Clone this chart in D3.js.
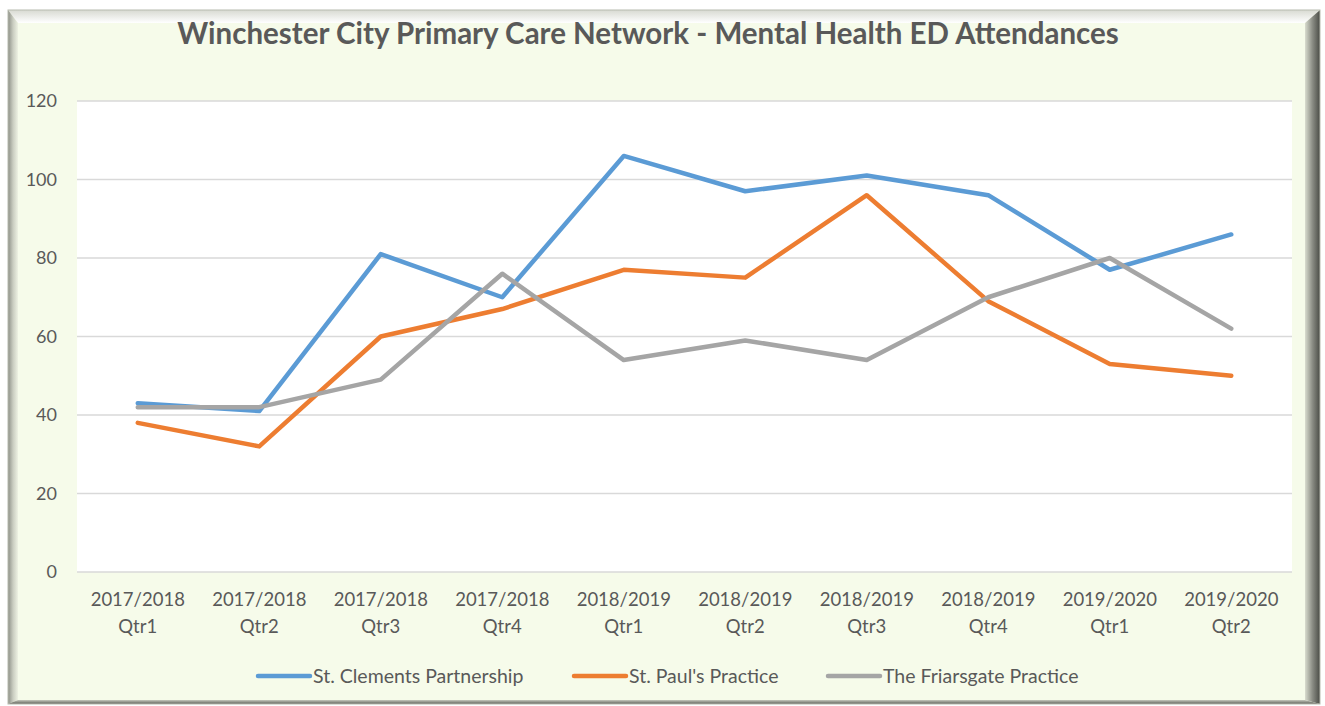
<!DOCTYPE html>
<html>
<head>
<meta charset="utf-8">
<script src="https://cdn.jsdelivr.net/npm/d3@7"></script>
<style>
  body { margin: 0; background: #ffffff; }
  svg text { font-family: Lato, "Open Sans", sans-serif; fill: #595959; }
</style>
</head>
<body>
<div id="chart"></div>
<script>
var categories = ["2017/2018 Qtr1", "2017/2018 Qtr2", "2017/2018 Qtr3", "2017/2018 Qtr4",
	"2018/2019 Qtr1", "2018/2019 Qtr2", "2018/2019 Qtr3", "2018/2019 Qtr4",
	"2019/2020 Qtr1", "2019/2020 Qtr2"];
var seriesNames = ["St. Clements Partnership", "St. Paul's Practice", "The Friarsgate Practice"];
var clements = [43, 41, 81, 70, 106, 97, 101, 96, 77, 86];
var pauls = [38, 32, 60, 67, 77, 75, 96, 69, 53, 50];
var friarsgate = [42, 42, 49, 76, 54, 59, 54, 70, 80, 62];
var yTicks = [0, 20, 40, 60, 80, 100, 120];
var colors = ["#5b9bd5", "#ed7d31", "#a5a5a5"];

var width = 1325, height = 706;
var svg = d3.select("#chart").append("svg").attr("width", width).attr("height", height);

var defs = svg.append("defs");
function grad(id, x2, y2, stops) {
	var g = defs.append("linearGradient").attr("id", id)
		.attr("x1", 0).attr("y1", 0).attr("x2", x2).attr("y2", y2);
	stops.forEach(function (s) { g.append("stop").attr("offset", s[0]).attr("stop-color", s[1]); });
}
grad("bevLeft", 1, 0, [[0, "#8c8f86"], [0.5, "#c9ccc0"], [1, "#eef2e3"]]);
grad("bevTop", 0, 1, [[0, "#d8dad2"], [1, "#ffffff"]]);
grad("bevRight", 1, 0, [[0, "#d9dccf"], [0.5, "#8a8c84"], [1, "#4a4c46"]]);
grad("bevBottom", 0, 1, [[0, "#c6c9bd"], [1, "#5d5f58"]]);

// frame with bevel
var ox0 = 8, oy0 = 10, ox1 = 1320, oy1 = 704;
var ix0 = 18, iy0 = 23, ix1 = 1305, iy1 = 700;
svg.append("rect").attr("x", ox0).attr("y", oy0).attr("width", ox1 - ox0).attr("height", oy1 - oy0).attr("fill", "#f6fbea");
function poly(pts, fill) {
	svg.append("polygon").attr("points", pts.map(function (p) { return p.join(","); }).join(" ")).attr("fill", fill);
}
poly([[ox0, oy0], [ox1, oy0], [ix1, iy0], [ix0, iy0]], "url(#bevTop)");
poly([[ox0, oy0], [ix0, iy0], [ix0, iy1], [ox0, oy1]], "url(#bevLeft)");
poly([[ox1, oy0], [ox1, oy1], [ix1, iy1], [ix1, iy0]], "url(#bevRight)");
poly([[ox0, oy1], [ix0, iy1], [ix1, iy1], [ox1, oy1]], "url(#bevBottom)");
svg.append("rect").attr("x", ox0).attr("y", oy0).attr("width", ox1 - ox0).attr("height", oy1 - oy0)
	.attr("fill", "none").attr("stroke", "#b8bbb0").attr("stroke-width", 1);

// plot area
var plot = { left: 77, right: 1292, top: 101, bottom: 572 };
svg.append("rect").attr("x", plot.left).attr("y", plot.top)
	.attr("width", plot.right - plot.left).attr("height", plot.bottom - plot.top).attr("fill", "#ffffff");

var x = d3.scaleBand().domain(categories).range([plot.left, plot.right]).padding(0);
var y = d3.scaleLinear().domain([0, 120]).range([plot.bottom, plot.top]);

// gridlines
svg.append("g").selectAll("line").data(yTicks).enter().append("line")
	.attr("x1", plot.left).attr("x2", plot.right)
	.attr("y1", function (d) { return y(d); }).attr("y2", function (d) { return y(d); })
	.attr("stroke", "#d9d9d9").attr("stroke-width", 1.5);

// y axis labels
var yAxis = svg.append("g").attr("transform", "translate(" + plot.left + ",0)")
	.call(d3.axisLeft(y).tickValues(yTicks).tickSize(0).tickPadding(20));
yAxis.select(".domain").remove();
yAxis.selectAll("text").style("font-size", "18px").attr("fill", "#595959");

// x axis labels (two lines)
var xAxis = svg.append("g").attr("transform", "translate(0," + plot.bottom + ")")
	.call(d3.axisBottom(x).tickSize(0).tickFormat(""));
xAxis.select(".domain").remove();
xAxis.selectAll(".tick").each(function (d) {
	var parts = d.split(" ");
	var t = d3.select(this).append("text").attr("text-anchor", "middle").attr("fill", "#595959")
		.style("font-size", "18.5px");
	t.append("tspan").attr("x", 0).attr("y", 34).text(parts[0]);
	t.append("tspan").attr("x", 0).attr("y", 61).text(parts[1]);
});

// lines
var allSeries = [clements, pauls, friarsgate];
var line = d3.line()
	.x(function (d, i) { return x(categories[i]) + x.bandwidth() / 2; })
	.y(function (d) { return y(d); });
svg.append("g").selectAll("path").data(allSeries).enter().append("path")
	.attr("d", line).attr("fill", "none")
	.attr("stroke", function (d, i) { return colors[i]; })
	.attr("stroke-width", 4.5).attr("stroke-linejoin", "round").attr("stroke-linecap", "round");

// title
svg.append("text").attr("x", 648).attr("y", 44).attr("text-anchor", "middle")
	.style("font-size", "29.5px").style("font-weight", "bold").attr("fill", "#595959")
	.text("Winchester City Primary Care Network - Mental Health ED Attendances");

// legend
var legendX = [258, 574, 828];
var legend = svg.append("g").selectAll("g").data(seriesNames).enter().append("g")
	.attr("transform", function (d, i) { return "translate(" + legendX[i] + ",676)"; });
legend.append("line").attr("x1", 0).attr("x2", 52).attr("y1", 0).attr("y2", 0)
	.attr("stroke", function (d, i) { return colors[i]; })
	.attr("stroke-width", 4.5).attr("stroke-linecap", "round");
legend.append("text").attr("x", 55).attr("y", 6.5).style("font-size", "19.5px").attr("fill", "#595959")
	.text(function (d) { return d; });
</script>
</body>
</html>
